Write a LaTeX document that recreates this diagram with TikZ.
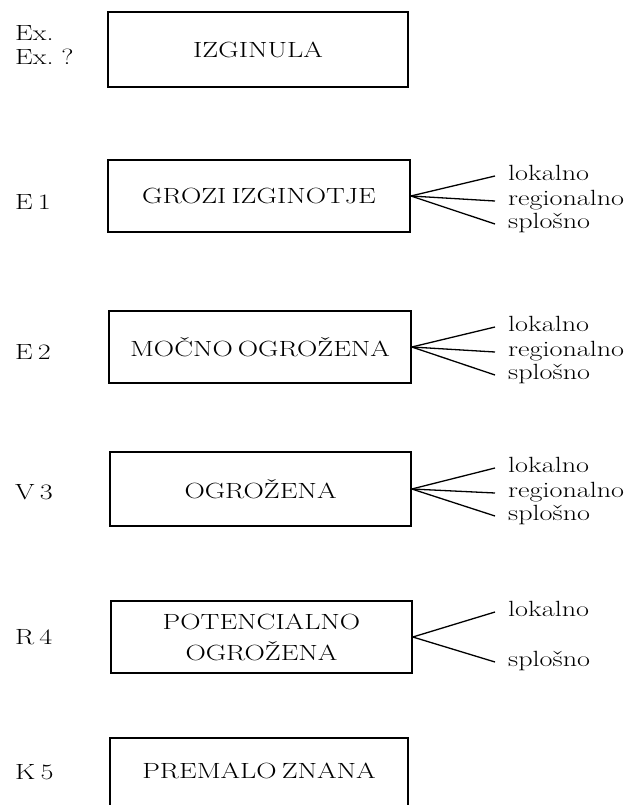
\documentclass[tikz,border=0pt]{standalone}
\usepackage{fontspec}
\setmainfont{Latin Modern Roman}[FakeStretch=1.28, WordSpace=0.6]
\begin{document}
\begin{tikzpicture}[x=1pt,y=-1pt,
  catbox/.style={draw, line width=1.6pt, inner sep=0pt, align=center,
    font=\fontsize{22}{31}\selectfont},
  codelab/.style={anchor=west, inner sep=0pt, text height=15pt, text depth=0pt,
    font=\fontsize{22}{28}\selectfont},
  scopelab/.style={anchor=west, inner xsep=13pt, inner ysep=0pt, text height=9.5pt, text depth=0pt,
    font=\fontsize{22}{24}\selectfont},
  fanline/.style={line width=1.3pt}]
\useasboundingbox (0,0) rectangle (635,805);
\clip (0,0) rectangle (635,805);

% boxes
\node[catbox, minimum width=300pt, minimum height=75pt] (b1) at (258,49.5) {IZGINULA};
\node[catbox, minimum width=302pt, minimum height=72pt] (b2) at (259,196) {GROZI IZGINOTJE};
\node[catbox, minimum width=302pt, minimum height=72pt] (b3) at (260,347) {MOČNO OGROŽENA};
\node[catbox, minimum width=301pt, minimum height=74pt] (b4) at (260.5,489) {OGROŽENA};
\node[catbox, minimum width=301pt, minimum height=72pt] (b5) at (261.5,637) {POTENCIALNO\\OGROŽENA};
\node[catbox, minimum width=298pt, minimum height=80pt] (b6) at (259,778) {};
\node[font=\fontsize{22}{24}\selectfont, inner sep=0pt] (t6) at (259,771) {PREMALO ZNANA};

% left codes
\node[codelab] (c1) at (15,33) {Ex.};
\node[codelab] (c1b) at (15,57) {Ex. ?};
\node[codelab] (c2) at (15,202) {E 1};
\node[codelab] (c3) at (15,352) {E 2};
\node[codelab] (c4) at (15,492) {V 3};
\node[codelab] (c5) at (15,637) {R 4};
\node[codelab] (c6) at (15,772) {K 5};

% right labels
\foreach \b/\y in {2/200, 3/351, 4/492}{
  \node[scopelab] (l\b a) at (495,\y-24) {lokalno};
  \node[scopelab] (l\b b) at (495,\y+1) {regionalno};
  \node[scopelab] (l\b c) at (495,\y+24) {splošno};
  \draw[fanline] (b\b.east) -- (l\b a.west);
  \draw[fanline] (b\b.east) -- (l\b b.west);
  \draw[fanline] (b\b.east) -- (l\b c.west);
}
\node[scopelab] (l5a) at (495,612) {lokalno};
\node[scopelab] (l5c) at (495,662) {splošno};
\draw[fanline] (b5.east) -- (l5a.west);
\draw[fanline] (b5.east) -- (l5c.west);
\end{tikzpicture}
\end{document}
